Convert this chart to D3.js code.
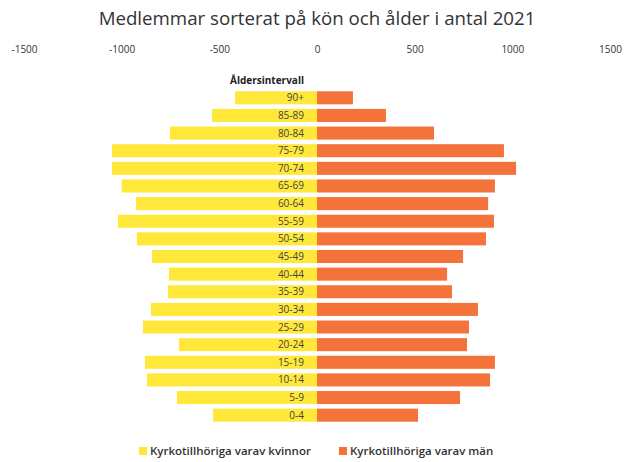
<!DOCTYPE html>
<html>
<head>
<meta charset="utf-8">
<script src="https://cdn.jsdelivr.net/npm/d3@7"></script>
<style>
  body { margin: 0; background: #fff; }
  text { font-family: "Open Sans", "Noto Sans", sans-serif; }
</style>
</head>
<body>
<svg id="chart"></svg>
<script>
const ageGroups = ['90+', '85-89', '80-84', '75-79', '70-74', '65-69', '60-64', '55-59', '50-54',
    '45-49', '40-44', '35-39', '30-34', '25-29', '20-24', '15-19', '10-14', '5-9', '0-4']
const women = [420, 537, 753, 1050, 1050, 1000, 927, 1019, 922, 845, 758, 763, 850, 891, 707, 881, 870, 717, 532]
const men = [184, 353, 599, 957, 1019, 911, 876, 906, 865, 748, 666, 691, 824, 778, 768, 911, 886, 732, 517]
const tickValues = [-1500, -1000, -500, 0, 500, 1000, 1500]
const seriesNames = ['Kyrkotillhöriga varav kvinnor', 'Kyrkotillhöriga varav män']

const width = 628
const height = 462
const colors = ['#FFE83A', '#F4733A']

const svg = d3.select('#chart')
    .attr('width', width)
    .attr('height', height)

const x = d3.scaleLinear()
    .domain([-1500, 1500])
    .range([24, 610])

const y = d3.scaleBand()
    .domain(ageGroups)
    .range([89, 424])
    .paddingInner(0.26)
    .paddingOuter(0.13)

// titel
svg.append('text')
    .attr('x', 317)
    .attr('y', 25)
    .attr('text-anchor', 'middle')
    .attr('font-size', 18.7)
    .attr('fill', '#333')
    .text('Medlemmar sorterat på kön och ålder i antal 2021')

const xAxis = d3.axisTop(x)
    .tickValues(tickValues)
    .tickSize(0)
    .tickFormat(d => d)

svg.append('g')
    .attr('transform', 'translate(0,56)')
    .call(xAxis)
    .call(g => g.select('.domain').remove())
    .selectAll('text')
    .attr('font-size', 10)
    .attr('fill', '#333')
    .style('font-family', '"Open Sans", sans-serif')

svg.selectAll('.bar-w')
    .data(ageGroups)
    .enter()
    .append('rect')
    .attr('class', 'bar-w')
    .attr('x', (d, i) => x(-women[i]))
    .attr('y', d => y(d))
    .attr('width', (d, i) => x(0) - x(-women[i]))
    .attr('height', y.bandwidth())
    .attr('fill', colors[0])

svg.selectAll('.bar-m')
    .data(ageGroups)
    .enter()
    .append('rect')
    .attr('class', 'bar-m')
    .attr('x', x(0))
    .attr('y', d => y(d))
    .attr('width', (d, i) => x(men[i]) - x(0))
    .attr('height', y.bandwidth())
    .attr('fill', colors[1])

svg.selectAll('.age-label')
    .data(ageGroups)
    .enter()
    .append('text')
    .attr('class', 'age-label')
    .attr('x', x(0) - 13)
    .attr('y', d => y(d) + y.bandwidth() / 2)
    .attr('dy', '0.35em')
    .attr('text-anchor', 'end')
    .attr('font-size', 10)
    .attr('fill', '#444')
    .text(d => d)

svg.append('text')
    .attr('x', x(0) - 13)
    .attr('y', 84)
    .attr('text-anchor', 'end')
    .attr('font-size', 10)
    .attr('font-weight', 'bold')
    .attr('fill', '#222')
    .text('Åldersintervall')

const legend = svg.selectAll('.legend')
    .data(seriesNames)
    .enter()
    .append('g')
    .attr('class', 'legend')
    .attr('transform', (d, i) => `translate(${i === 0 ? 139 : 339},451)`)

legend.append('rect')
    .attr('x', 0)
    .attr('y', -4)
    .attr('width', 8)
    .attr('height', 8)
    .attr('fill', (d, i) => colors[i])

legend.append('text')
    .attr('x', 11)
    .attr('dy', '0.35em')
    .attr('font-size', 11.5)
    .attr('font-weight', 600)
    .attr('fill', '#333')
    .text(d => d)
</script>
</body>
</html>
